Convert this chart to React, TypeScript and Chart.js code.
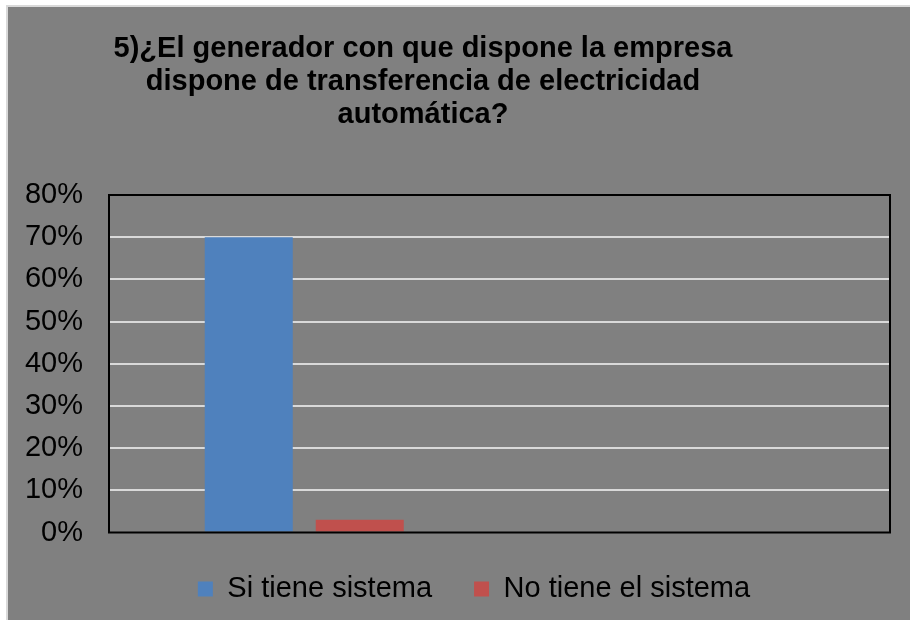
import React, { useEffect, useRef } from 'react';
import { Chart, registerables } from 'chart.js';

Chart.register(...registerables);

// ---- data ----
const categories = ['Respuesta', ''];
const seriesNames = ['Si tiene sistema', 'No tiene el sistema'];
const siTieneValues = [70, null];
const noTieneValues = [3, null];
const seriesColors = ['#4f81bd', '#c0504d'];
const titleLines = [
  '5)¿El generador con que dispone la empresa',
  'dispone de transferencia de electricidad',
  'automática?',
];
const yMin = 0;
const yMax = 80;
const yStep = 10;
const tickSuffix = '%';

const FONT = '"Liberation Sans", Arial, sans-serif';

export default function App() {
  const canvasRef = useRef<HTMLCanvasElement | null>(null);

  useEffect(() => {
    if (!canvasRef.current) return;

    const titlePlugin = {
      id: 'customTitle',
      afterDraw(chart: any) {
        const ctx = chart.ctx;
        ctx.save();
        ctx.font = `bold 29px ${FONT}`;
        ctx.fillStyle = '#000000';
        ctx.textAlign = 'center';
        ctx.textBaseline = 'alphabetic';
        titleLines.forEach((line, i) => {
          ctx.fillText(line, 415, 50 + i * 33);
        });
        ctx.restore();
      },
    };

    const legendShiftPlugin = {
      id: 'legendShift',
      afterLayout(chart: any) {
        const lg = chart.legend;
        if (lg) {
          lg.left += 20;
          lg.right += 20;
        }
      },
    };

    const framePlugin = {
      id: 'frame',
      afterDatasetsDraw(chart: any) {
        const { ctx, chartArea } = chart;
        ctx.save();
        ctx.strokeStyle = '#000000';
        ctx.lineWidth = 2;
        ctx.strokeRect(
          chartArea.left,
          chartArea.top,
          chartArea.right - chartArea.left,
          chartArea.bottom - chartArea.top
        );
        ctx.restore();
      },
    };

    const chart = new Chart(canvasRef.current, {
      type: 'bar',
      data: {
        labels: categories,
        datasets: [
          {
            label: seriesNames[0],
            data: siTieneValues,
            backgroundColor: seriesColors[0],
            borderWidth: 0,
          },
          {
            label: seriesNames[1],
            data: noTieneValues,
            backgroundColor: seriesColors[1],
            borderWidth: 0,
          },
        ],
      },
      options: {
        animation: false,
        responsive: true,
        maintainAspectRatio: false,
        datasets: {
          bar: {
            categoryPercentage: 0.5685,
            barPercentage: 0.793,
          },
        },
        layout: {
          padding: { top: 188, left: 10, right: 20, bottom: 6.5 },
        },
        scales: {
          x: {
            type: 'category',
            grid: { display: false, drawTicks: false },
            border: { display: false },
            ticks: { display: false },
            afterFit(scale: any) {
              scale.height = 0;
            },
          },
          y: {
            min: yMin,
            max: yMax,
            border: { display: false },
            grid: {
              drawTicks: false,
              lineWidth: 2,
              color: (c: any) =>
                c.tick && (c.tick.value === yMin || c.tick.value === yMax)
                  ? 'rgba(0,0,0,0)'
                  : '#d9d9d9',
            },
            ticks: {
              stepSize: yStep,
              padding: 26,
              color: '#000000',
              font: { family: FONT, size: 29 },
              callback: (v: any) => `${v}${tickSuffix}`,
            },
            afterFit(scale: any) {
              scale.width = 91;
            },
          },
        },
        plugins: {
          legend: {
            display: true,
            position: 'bottom',
            labels: {
              boxWidth: 15,
              boxHeight: 15,
              padding: 42,
              color: '#000000',
              font: { family: FONT, size: 29 },
            },
          },
          title: { display: false },
          tooltip: { enabled: false },
        },
      },
      plugins: [titlePlugin, framePlugin, legendShiftPlugin],
    });

    return () => chart.destroy();
  }, []);

  return (
    <div
      style={{
        position: 'absolute',
        left: 6,
        top: 5,
        width: 904,
        height: 615,
        background: '#d9d9d9',
      }}
    >
      <div
        style={{
          position: 'absolute',
          left: 2,
          top: 2,
          width: 902,
          height: 613,
          background: '#808080',
        }}
      >
        <canvas ref={canvasRef} />
      </div>
    </div>
  );
}
